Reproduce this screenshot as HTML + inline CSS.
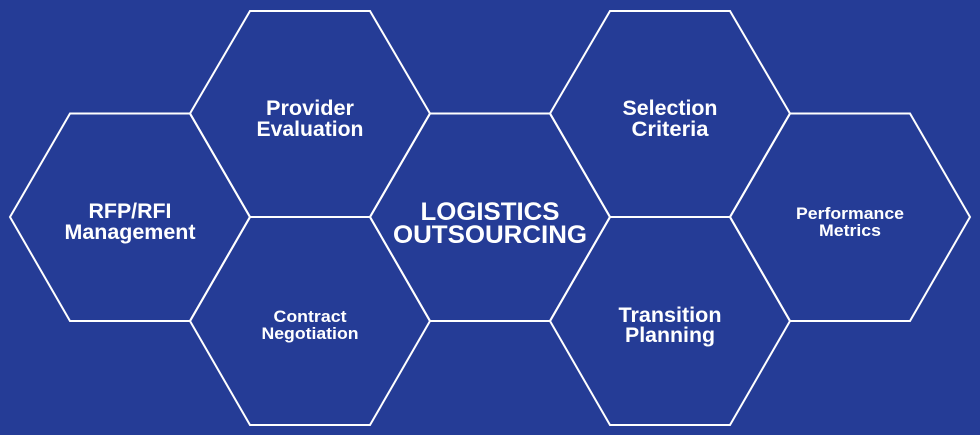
<!DOCTYPE html>
<html><head><meta charset="utf-8"><style>
html,body{margin:0;padding:0;background:#253c96;}
svg{display:block}
text{font-family:"Liberation Sans",Arial,sans-serif;font-weight:bold;fill:#fff;text-anchor:middle}
</style></head><body>
<svg width="980" height="435" viewBox="0 0 980 435" xmlns="http://www.w3.org/2000/svg">
<rect width="980" height="435" fill="#253c96"/>
<g fill="none" stroke="#fff" stroke-width="2" stroke-linejoin="miter">
<polygon points="10,217 70,113.5 190,113.5 250,217 190,321 70,321"/>
<polygon points="190,113.5 250,11 370,11 430,113.5 370,217 250,217"/>
<polygon points="190,321 250,217 370,217 430,321 370,425 250,425"/>
<polygon points="370,217 430,113.5 550,113.5 610,217 550,321 430,321"/>
<polygon points="550,113.5 610,11 730,11 790,113.5 730,217 610,217"/>
<polygon points="550,321 610,217 730,217 790,321 730,425 610,425"/>
<polygon points="730,217 790,113.5 910,113.5 970,217 910,321 790,321"/>
</g>
<text font-size="21" x="130" y="218" textLength="83" lengthAdjust="spacingAndGlyphs">RFP/RFI</text>
<text font-size="21" x="130" y="239" textLength="131" lengthAdjust="spacingAndGlyphs">Management</text>
<text font-size="21" x="310" y="115" textLength="88" lengthAdjust="spacingAndGlyphs">Provider</text>
<text font-size="21" x="310" y="136" textLength="107" lengthAdjust="spacingAndGlyphs">Evaluation</text>
<text font-size="17" x="310" y="322" textLength="73" lengthAdjust="spacingAndGlyphs">Contract</text>
<text font-size="17" x="310" y="339" textLength="97" lengthAdjust="spacingAndGlyphs">Negotiation</text>
<text font-size="25" x="490" y="220" textLength="139" lengthAdjust="spacingAndGlyphs">LOGISTICS</text>
<text font-size="25" x="490" y="243" textLength="194" lengthAdjust="spacingAndGlyphs">OUTSOURCING</text>
<text font-size="21" x="670" y="115" textLength="95" lengthAdjust="spacingAndGlyphs">Selection</text>
<text font-size="21" x="670" y="136" textLength="77" lengthAdjust="spacingAndGlyphs">Criteria</text>
<text font-size="21" x="670" y="322" textLength="103" lengthAdjust="spacingAndGlyphs">Transition</text>
<text font-size="21" x="670" y="342" textLength="90" lengthAdjust="spacingAndGlyphs">Planning</text>
<text font-size="17" x="850" y="219" textLength="108" lengthAdjust="spacingAndGlyphs">Performance</text>
<text font-size="17" x="850" y="236" textLength="62" lengthAdjust="spacingAndGlyphs">Metrics</text>
</svg>
</body></html>
